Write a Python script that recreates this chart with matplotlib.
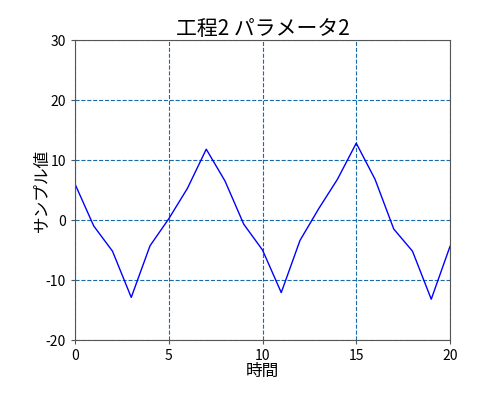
import matplotlib
matplotlib.use("Agg")
import matplotlib.pyplot as plt

plt.rcParams['font.family'] = ['Noto Sans CJK JP', 'DejaVu Sans']
plt.rcParams['axes.unicode_minus'] = False

time = list(range(21))
values = [6.0, -1.0, -5.2, -12.9, -4.3, 0.2, 5.3, 11.8, 6.5, -0.7, -5.0,
          -12.1, -3.4, 1.9, 6.8, 12.8, 6.8, -1.5, -5.2, -13.2, -4.4]

fig = plt.figure(figsize=(5, 4), dpi=100)
ax = fig.add_axes([0.15, 0.15, 0.75, 0.75])
ax.plot(time, values, color='blue', linewidth=1)
ax.set_xlim(0, 20)
ax.set_ylim(-20, 30)
ax.set_xticks([0, 5, 10, 15, 20])
ax.set_yticks([-20, -10, 0, 10, 20, 30])
ax.grid(True, linestyle='--', color='#1a6aa8', linewidth=0.8)
for s in ax.spines.values():
    s.set_color('#555555')
ax.tick_params(labelsize=10, length=3, color='#555555')
ax.set_title("工程2 パラメータ2", fontsize=15, pad=2)
ax.set_xlabel("時間", fontsize=12, labelpad=0)
ax.set_ylabel("サンプル値", fontsize=12, labelpad=-4)

fig.savefig("out.png", dpi=100)
